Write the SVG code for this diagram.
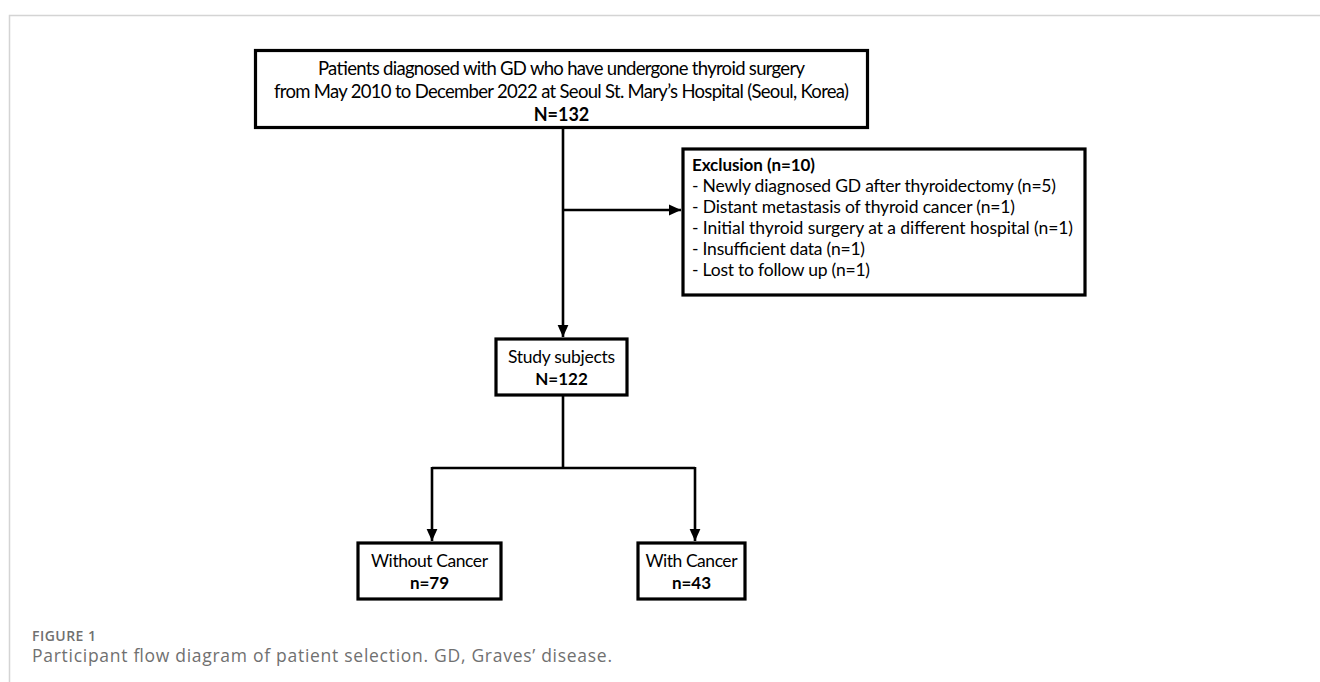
<svg xmlns="http://www.w3.org/2000/svg" width="1320" height="682" viewBox="0 0 1320 682">
  <style>
    .box { fill: #ffffff; stroke: #000000; stroke-width: 3.2; }
    .conn { fill: none; stroke: #000000; stroke-width: 2.6; }
    .t { font-family: Lato, "Liberation Sans", sans-serif; fill: #000000; }
    .c { text-anchor: middle; }
    .b { font-weight: bold; }
    .cap { font-family: "Open Sans", "Liberation Sans", sans-serif; fill: #707070; }
    .frame { stroke: #d4d4d4; stroke-width: 1.5; fill: none; }
  </style>
  <defs>
    <marker id="arrow" markerUnits="userSpaceOnUse" markerWidth="12" markerHeight="12" viewBox="0 0 10 10" refX="10" refY="5" orient="auto">
      <path d="M0,0.5 L10,5 L0,9.5 Z" fill="#000000"/>
    </marker>
  </defs>
  <rect width="1320" height="682" fill="#ffffff"/>
  <path class="frame" d="M9.5,682 V15.5 H1320"/>

  <g id="connectors">
    <path class="conn" d="M563,128 V337" marker-end="url(#arrow)"/>
    <path class="conn" d="M563,210 H681" marker-end="url(#arrow)"/>
    <path class="conn" d="M563,395 V468"/>
    <path class="conn" d="M432,468 H695"/>
    <path class="conn" d="M432,467 V541" marker-end="url(#arrow)"/>
    <path class="conn" d="M695,467 V541" marker-end="url(#arrow)"/>
  </g>

  <g id="node-patients">
    <rect class="box" x="255.5" y="50.5" width="612" height="77"/>
    <text class="t c" x="561.5" y="75" font-size="18.5" textLength="487">Patients diagnosed with GD who have undergone thyroid surgery</text>
    <text class="t c" x="561.5" y="98" font-size="18.5" textLength="575">from May 2010 to December 2022 at Seoul St. Mary’s Hospital (Seoul, Korea)</text>
    <text class="t c b" x="561.5" y="121" font-size="18">N=132</text>
  </g>

  <g id="node-exclusion">
    <rect class="box" x="683" y="149" width="402" height="146"/>
    <text class="t b" x="692" y="171" font-size="17" textLength="123">Exclusion (n=10)</text>
    <text class="t" x="692" y="192" font-size="17.5" textLength="364">- Newly diagnosed GD after thyroidectomy (n=5)</text>
    <text class="t" x="692" y="213" font-size="17.5" textLength="323">- Distant metastasis of thyroid cancer (n=1)</text>
    <text class="t" x="692" y="234" font-size="17.5" textLength="381">- Initial thyroid surgery at a different hospital (n=1)</text>
    <text class="t" x="692" y="255" font-size="17.5" textLength="173">- Insufficient data (n=1)</text>
    <text class="t" x="692" y="276" font-size="17.5" textLength="178">- Lost to follow up (n=1)</text>
  </g>

  <g id="node-study">
    <rect class="box" x="496" y="339" width="131" height="56"/>
    <text class="t c" x="561.5" y="363" font-size="17.5" textLength="107">Study subjects</text>
    <text class="t c b" x="561.5" y="385" font-size="17">N=122</text>
  </g>

  <g id="node-without">
    <rect class="box" x="358" y="543" width="143" height="56"/>
    <text class="t c" x="429.5" y="567" font-size="17.5" textLength="117">Without Cancer</text>
    <text class="t c b" x="429.5" y="589" font-size="17">n=79</text>
  </g>

  <g id="node-with">
    <rect class="box" x="638" y="543" width="107" height="56"/>
    <text class="t c" x="691.5" y="567" font-size="17.5" textLength="92">With Cancer</text>
    <text class="t c b" x="691.5" y="589" font-size="17">n=43</text>
  </g>

  <g id="caption">
    <text class="cap" x="32" y="641" font-size="14" font-weight="600" textLength="64">FIGURE 1</text>
    <text class="cap" x="32" y="662" font-size="17.5" textLength="580">Participant flow diagram of patient selection. GD, Graves’ disease.</text>
  </g>
</svg>
